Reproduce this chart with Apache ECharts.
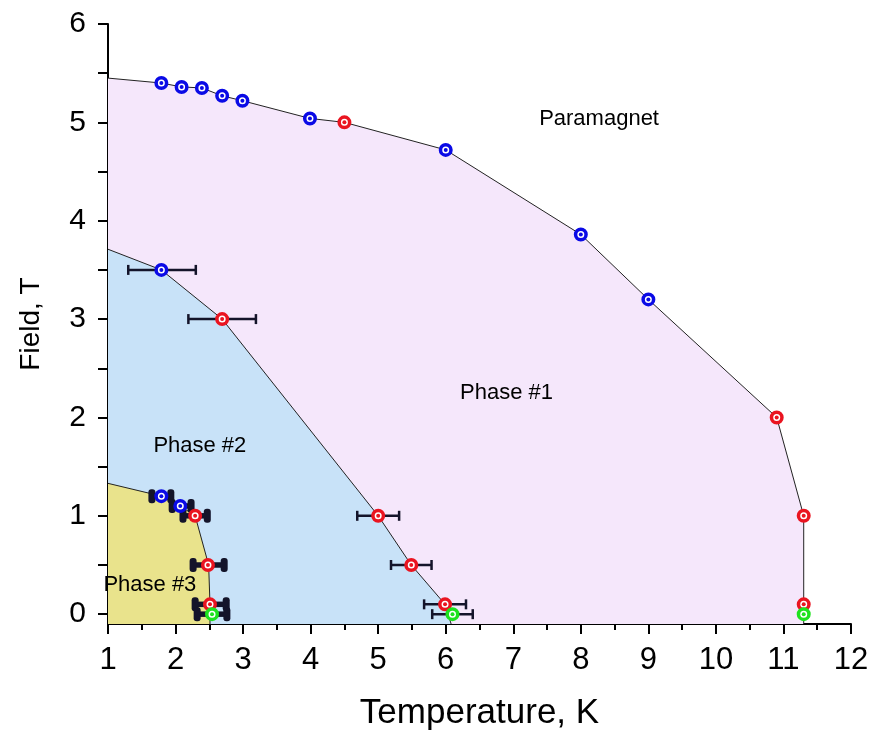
<!DOCTYPE html>
<html>
<head>
<meta charset="utf-8">
<script src="https://cdn.jsdelivr.net/npm/echarts@6/dist/echarts.min.js"></script>
<style>
html,body{margin:0;padding:0;background:#fff;}
#chart{width:873px;height:736px;}
</style>
</head>
<body>
<div id="chart"></div>
<script>
// ---- data ----
const bluePoints = [[1.79,5.40],[2.09,5.36],[2.39,5.35],[2.69,5.27],[2.99,5.22],[3.99,5.04],[6.0,4.72],[8.0,3.86],[9.0,3.20],[1.79,3.5],[1.79,1.2],[2.07,1.1]];
const redPoints = [[4.5,5.0],[10.9,2.0],[11.3,1.0],[11.3,0.1],[2.69,3.0],[5.0,1.0],[5.49,0.5],[5.99,0.1],[2.29,1.0],[2.48,0.5],[2.51,0.1]];
const greenPoints = [[11.3,0.0],[6.1,0.0],[2.54,0.0]];

// error bars: [x, y, half-width]
const thinErrors = [[1.8,3.5,0.5],[2.69,3.0,0.5],[5.0,1.0,0.31],[5.49,0.5,0.3],[5.99,0.1,0.31],[6.1,0.0,0.3]];
const thickErrors = [[1.79,1.2,0.14],[2.09,1.1,0.14],[2.29,1.0,0.18],[2.49,0.5,0.23],[2.52,0.1,0.23],[2.54,0.0,0.22]];

// phase boundaries
const paraBoundary = [[1,5.45],[1.79,5.40],[2.09,5.36],[2.39,5.35],[2.69,5.27],[2.99,5.22],[3.99,5.04],[4.5,5.0],[6.0,4.72],[8.0,3.86],[9.0,3.20],[10.9,2.0],[11.3,1.0],[11.3,0.1],[11.3,-0.1]];
const phase2Boundary = [[1,3.71],[1.79,3.5],[2.69,3.0],[5.0,1.0],[5.49,0.5],[5.99,0.1],[6.08,-0.1]];
const phase3Boundary = [[1,1.33],[1.79,1.2],[2.07,1.1],[2.29,1.0],[2.49,0.5],[2.51,0.1],[2.51,-0.1]];

// region labels
const regionNames = ['Paramagnet','Phase #1','Phase #2','Phase #3'];
const regionX = [8.27,6.9,2.36,1.62];
const regionY = [5.03,2.25,1.71,0.30];

// axis ticks
const yTickLabels = [0,1,2,3,4,5,6];
const yTickMarks = [0,0.5,1,1.5,2,2.5,3,3.5,4,4.5,5,5.5,6];

// ---- chart ----
const FONT = "'Liberation Sans', Arial, sans-serif";
const BLUE = '#0a0ae6', RED = '#ea1420', GREEN = '#1ee21e', EBAR = '#14142a';

function errRender(thick){
  return function(params, api){
    const x = api.value(0), y = api.value(1), e = api.value(2);
    const l = api.coord([x-e, y]), r = api.coord([x+e, y]);
    const lw = thick ? 5.5 : 2.5;
    const ch = thick ? 14 : 10;
    const cw = thick ? 7 : 2.5;
    return {
      type:'group',
      children:[
        {type:'line', shape:{x1:l[0],y1:l[1],x2:r[0],y2:r[1]}, style:{stroke:EBAR,lineWidth:lw}},
        {type:'rect', shape:{x:l[0]-cw/2,y:l[1]-ch/2,width:cw,height:ch,r:thick?3:0}, style:{fill:EBAR}},
        {type:'rect', shape:{x:r[0]-cw/2,y:r[1]-ch/2,width:cw,height:ch,r:thick?3:0}, style:{fill:EBAR}}
      ]
    };
  };
}

function fillSeries(data, color, z){
  return {
    type:'line', data:data, symbol:'none', z:z, silent:true,
    lineStyle:{color:'#222', width:1},
    areaStyle:{color:color, opacity:1, origin:'start'},
    animation:false
  };
}
function ring(data, color){
  return {type:'scatter', data:data, symbol:'circle', symbolSize:10.5, z:10,
    itemStyle:{color:'#fff', borderColor:color, borderWidth:3.5, opacity:1}, animation:false};
}
function dot(data, color){
  return {type:'scatter', data:data, symbol:'circle', symbolSize:4, z:11,
    itemStyle:{color:color, opacity:1}, animation:false};
}

const chart = echarts.init(document.getElementById('chart'), null, {renderer:'canvas'});
chart.setOption({
  backgroundColor:'#fff',
  animation:false,
  grid:{left:108, right:22, top:24, bottom:112, containLabel:false, outerBoundsMode:'none'},
  xAxis:{
    type:'value', min:1, max:12, interval:1,
    name:'Temperature, K', nameLocation:'middle', nameGap:72,
    nameTextStyle:{fontFamily:FONT, fontSize:35, color:'#000'},
    axisLine:{show:true, onZero:false, lineStyle:{color:'#000', width:2}},
    axisTick:{show:true, inside:false, length:10, lineStyle:{color:'#000', width:2}},
    minorTick:{show:true, splitNumber:2, length:6, lineStyle:{color:'#000', width:2}},
    axisLabel:{fontFamily:FONT, fontSize:31, color:'#000', margin:21},
    splitLine:{show:false}, minorSplitLine:{show:false}
  },
  yAxis:{
    type:'value', min:-0.1, max:6,
    name:'Field, T', nameLocation:'middle', nameGap:63, nameRotate:90,
    nameTextStyle:{fontFamily:FONT, fontSize:28, color:'#000'},
    axisLine:{show:true, onZero:false, lineStyle:{color:'#000', width:2}},
    axisTick:{show:true, inside:false, length:10, customValues:yTickMarks, lineStyle:{color:'#000', width:2}},
    axisLabel:{fontFamily:FONT, fontSize:30, color:'#000', margin:22, customValues:yTickLabels},
    splitLine:{show:false}
  },
  series:[
    fillSeries(paraBoundary, '#f5e7fb', 1),
    fillSeries(phase2Boundary, '#c8e2f8', 2),
    fillSeries(phase3Boundary, '#e9e38c', 3),
    {type:'custom', data:thinErrors, renderItem:errRender(false), z:5, animation:false},
    {type:'custom', data:thickErrors, renderItem:errRender(true), z:5, animation:false},
    ring(bluePoints, BLUE), dot(bluePoints, BLUE),
    ring(redPoints, RED), dot(redPoints, RED),
    ring(greenPoints, GREEN), dot(greenPoints, GREEN),
    {
      type:'scatter', symbolSize:0, z:20, silent:true,
      itemStyle:{opacity:1},
      data: regionNames.map((n,i)=>({name:n, value:[regionX[i], regionY[i]]})),
      label:{show:true, position:'inside', formatter:p=>p.name, fontFamily:FONT, fontSize:22, color:'#000', opacity:1, textBorderWidth:0},
      animation:false
    }
  ]
});
</script>
</body>
</html>
